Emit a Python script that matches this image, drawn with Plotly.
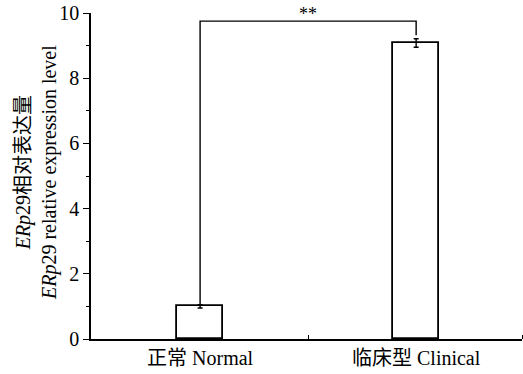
import plotly.graph_objects as go

categories = ["正常 Normal", "临床型 Clinical"]
values = [1.0, 9.08]
errors = [0.05, 0.13]
y_ticks = [0, 2, 4, 6, 8, 10]
bracket_y = 9.75
bracket_right_end = 9.32
sig_label = "**"
y_title = "<i>ERp</i>29相对表达量<br><i>ERp</i>29 relative expression level"

FONT = "Liberation Serif, Noto Sans CJK SC"

xpos = list(range(len(categories)))

fig = go.Figure()
fig.add_trace(go.Bar(
    x=xpos, y=values, width=0.21,
    marker=dict(color="white", line=dict(color="black", width=1.8)),
    error_y=dict(type="data", array=errors, visible=True, color="black", thickness=1.4, width=2.5),
    showlegend=False,
))

# significance bracket
fig.add_shape(type="path",
              path=f"M {xpos[0]},{values[0]+errors[0]} L {xpos[0]},{bracket_y} L {xpos[1]},{bracket_y} L {xpos[1]},{bracket_right_end}",
              xref="x", yref="y", line=dict(color="black", width=1.4))
fig.add_annotation(x=(xpos[0]+xpos[1])/2, y=bracket_y, text=sig_label, showarrow=False,
                   xref="x", yref="y", yanchor="bottom", yshift=-5,
                   font=dict(family=FONT, size=18, color="black"))

# y-axis title
fig.add_annotation(x=0, y=0.5, xref="paper", yref="paper", text=y_title, showarrow=False,
                   textangle=-90, xanchor="center", yanchor="middle", xshift=-55, yshift=3,
                   font=dict(family=FONT, size=20, color="black"))

fig.update_layout(
    width=523, height=374,
    margin=dict(l=91, r=1, t=13, b=35),
    paper_bgcolor="white", plot_bgcolor="white",
    font=dict(family=FONT, size=20, color="black"),
    bargap=0,
    xaxis=dict(
        range=[-0.505, 1.49], tickmode="array", tickvals=xpos, ticktext=categories,
        ticks="", showline=True, linecolor="black", linewidth=1.6, showgrid=False, zeroline=False,
        tickfont=dict(family=FONT, size=20), automargin=False,
        minor=dict(tickmode="array", tickvals=[0.5, 1.49], ticks="inside", ticklen=4, tickcolor="black", tickwidth=1.2, showgrid=False),
    ),
    yaxis=dict(
        range=[0, 10], tickmode="array", tickvals=y_ticks,
        ticks="outside", ticklen=6, tickwidth=1.4, tickcolor="black",
        showline=True, linecolor="black", linewidth=1.6, showgrid=False, zeroline=False,
        tickfont=dict(family=FONT, size=20), automargin=False,
        minor=dict(tickmode="array", tickvals=[1, 3, 5, 7, 9], ticks="outside", ticklen=3, tickwidth=1.2, tickcolor="black", showgrid=False),
    ),
)

fig.write_html("out.html", config={"displayModeBar": False},
               post_script="document.body.style.margin='0';document.body.style.padding='0';document.body.style.overflow='hidden';")
